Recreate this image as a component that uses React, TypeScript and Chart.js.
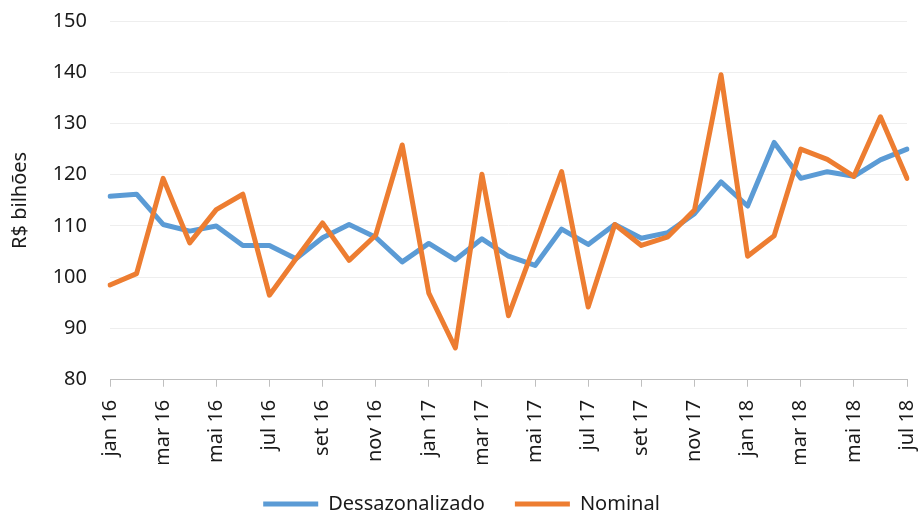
import React, { useEffect, useRef } from "react";
import { Chart, registerables } from "chart.js";

Chart.register(...registerables);

const months: string[] = [
  "jan 16", "fev 16", "mar 16", "abr 16", "mai 16", "jun 16", "jul 16", "ago 16", "set 16", "out 16", "nov 16", "dez 16",
  "jan 17", "fev 17", "mar 17", "abr 17", "mai 17", "jun 17", "jul 17", "ago 17", "set 17", "out 17", "nov 17", "dez 17",
  "jan 18", "fev 18", "mar 18", "abr 18", "mai 18", "jun 18", "jul 18",
];

const dessazonalizado: number[] = [
  115.8, 116.2, 110.3, 109.0, 110.0, 106.2, 106.2, 103.6, 107.7, 110.3, 107.8, 103.0,
  106.6, 103.4, 107.5, 104.1, 102.3, 109.4, 106.4, 110.3, 107.6, 108.7, 112.4, 118.6,
  113.9, 126.3, 119.3, 120.6, 119.7, 122.9, 125.0,
];

const nominal: number[] = [
  98.5, 100.7, 119.3, 106.7, 113.2, 116.2, 96.5, 103.6, 110.6, 103.3, 108.2, 125.8,
  96.9, 86.2, 120.1, 92.5, 106.5, 120.6, 94.2, 110.3, 106.2, 107.9, 113.1, 139.5,
  104.1, 108.1, 125.0, 123.0, 119.7, 131.3, 119.3,
];

const FONT = "'Noto Sans', sans-serif";
const TEXT = "#1a1a1a";

const shiftLegend = {
  id: "shiftLegend",
  afterUpdate(chart: any) {
    const l = chart.legend;
    if (l) {
      l.left += 8;
      l.right += 8;
    }
  },
};

export default function App() {
  const ref = useRef<HTMLCanvasElement | null>(null);

  useEffect(() => {
    document.body.style.margin = "0";
    if (!ref.current) return;
    const chart = new Chart(ref.current, {
      type: "line",
      plugins: [shiftLegend],
      data: {
        labels: months,
        datasets: [
          {
            label: "Dessazonalizado",
            data: dessazonalizado,
            borderColor: "#5B9BD5",
            backgroundColor: "#5B9BD5",
            borderWidth: 5,
            pointRadius: 0,
            tension: 0,
            borderJoinStyle: "round",
            borderCapStyle: "round",
            order: 1,
          },
          {
            label: "Nominal",
            data: nominal,
            borderColor: "#ED7D31",
            backgroundColor: "#ED7D31",
            borderWidth: 5,
            pointRadius: 0,
            tension: 0,
            borderJoinStyle: "round",
            borderCapStyle: "round",
            order: 0,
          },
        ],
      },
      options: {
        animation: false,
        responsive: true,
        maintainAspectRatio: false,
        layout: { padding: { top: 21, right: 11, left: 0, bottom: -13 } },
        plugins: {
          tooltip: { enabled: false },
          legend: {
            position: "bottom",
            labels: {
              font: { family: FONT, size: 20 },
              color: TEXT,
              usePointStyle: true,
              pointStyle: "line",
              pointStyleWidth: 55,
              padding: 30,
              sort: (a: any, b: any) => a.datasetIndex - b.datasetIndex,
            },
          },
        },
        scales: {
          x: {
            type: "category",
            offset: false,
            border: { display: true, color: "#bfbfbf", width: 1 },
            grid: {
              drawOnChartArea: false,
              drawTicks: true,
              tickLength: 7,
              tickColor: (ctx: any) => (ctx.index % 2 === 0 ? "#bfbfbf" : "rgba(0,0,0,0)"),
            },
            ticks: {
              autoSkip: false,
              maxRotation: 90,
              minRotation: 90,
              padding: 13,
              color: TEXT,
              font: { family: FONT, size: 20 },
              callback: (_v: any, i: number) => (i % 2 === 0 ? months[i] : ""),
            },
            afterFit: (scale: any) => {
              scale.height -= 15;
              scale.paddingLeft = 0;
              scale.paddingRight = 0;
            },
          },
          y: {
            min: 80,
            max: 150,
            border: { display: false },
            grid: { color: "#eeeeee", lineWidth: 1, drawTicks: false },
            ticks: {
              stepSize: 10,
              padding: 23,
              color: TEXT,
              font: { family: FONT, size: 20 },
            },
            title: {
              display: true,
              text: "R$ bilhões",
              color: TEXT,
              font: { family: FONT, size: 20 },
              padding: { top: 8, bottom: 0 },
            },
            afterFit: (scale: any) => {
              scale.width = 110;
              scale.paddingTop = 0;
              scale.paddingBottom = 0;
            },
          },
        },
      },
    });
    return () => chart.destroy();
  }, []);

  return (
    <div style={{ position: "relative", width: 918, height: 511 }}>
      <canvas ref={ref} />
    </div>
  );
}
